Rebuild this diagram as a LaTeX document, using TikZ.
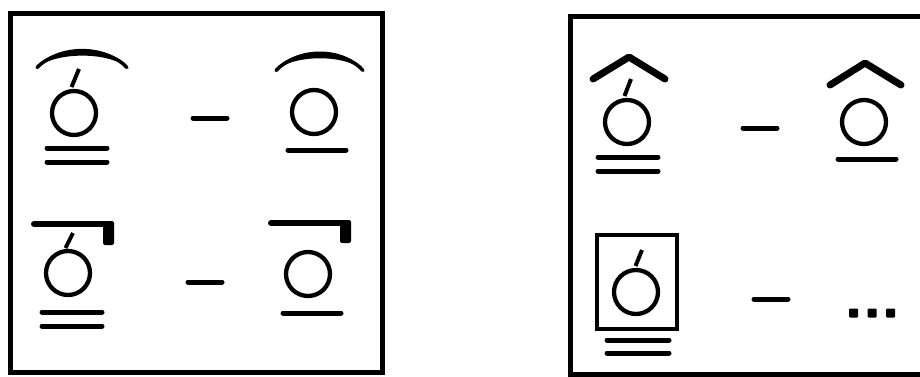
\documentclass[tikz,border=0pt]{standalone}
\begin{document}
\begin{tikzpicture}[x=1pt,y=-1pt,
  frame/.style={line width=5pt},
  ring/.style={line width=4.3pt},
  rnode/.style={circle,draw,ring,minimum size=44pt,inner sep=0pt},
  stroke/.style={line width=5pt, line cap=round},
  tick/.style={line width=4pt},
  hat/.style={line width=7pt, line cap=round, line join=round}]
\useasboundingbox (0,0) rectangle (920,376);
% frames
\draw[frame] (10,13) rectangle (382,372);
\draw[frame] (928,16) -- (570,16) -- (570,374) -- (928,374);

% ---------- left panel ----------
% top-left: arc, acute O, double underline
\fill (36,68) .. controls (55,43) and (108,42) .. (128,68)
      .. controls (108,51) and (55,52) .. cycle;
\draw[line width=3.5pt,line cap=round] (37,67.5) .. controls (56,47) and (108,46) .. (127,67.5);
\node[rnode] (c1) at (74,113) {};
\draw[tick] (71.5,87) -- (79,69);
\draw[stroke] (47,148) -- (107,148);
\draw[stroke] (47,162) -- (107,162);

\draw[stroke] (193,118) coordinate (d1a) -- (227,118) coordinate (d1b);

% top-right: arc, O, single underline
\fill (275,71) .. controls (294,45) and (346,45) .. (364,71)
      .. controls (346,54) and (294,54) .. cycle;
\draw[line width=3.5pt,line cap=round] (276,70.5) .. controls (295,49) and (345,49) .. (363,70.5);
\node[rnode] (c2) at (314,112) {};
\draw[stroke] (288,150) -- (346,150);

% bottom-left: hook bar, acute O, double underline
\draw[line width=6pt,line cap=round] (34,224) -- (108,224);
\fill[rounded corners=2pt] (103,221) rectangle (114,245);
\node[rnode] (c3) at (68,273) {};
\draw[tick] (65.5,248) -- (73,233);
\draw[stroke] (42,312) -- (102,312);
\draw[stroke] (42,326) -- (102,326);

\draw[stroke] (188,282) coordinate (d2a) -- (222,282) coordinate (d2b);

% bottom-right: hook bar, O, single underline
\draw[line width=6pt,line cap=round] (271,223) -- (345,223);
\fill[rounded corners=2pt] (340,220) rectangle (351,243);
\node[rnode] (c4) at (308,274) {};
\draw[stroke] (283,313) -- (341,313);

% ---------- right panel ----------
% top-left: hat, acute O, double underline
\draw[hat] (593,79) -- (629,57) -- (665,79);
\node[rnode] (c5) at (627,122) {};
\draw[tick] (624.5,96) -- (631,79);
\draw[stroke] (598,157) -- (658,157);
\draw[stroke] (598,171) -- (658,171);

\draw[stroke] (743,128) coordinate (d3a) -- (777,128) coordinate (d3b);

% top-right: hat, O, single underline
\draw[hat] (830,85) -- (865,63) -- (901,85);
\node[rnode] (c6) at (864,122) {};
\draw[stroke] (838,159) -- (896,159);

% bottom-left: boxed acute O, double underline
\draw[line width=4.5pt] (597,235) rectangle (677,329);
\node[rnode] (c7) at (636,292) {};
\draw[tick] (635.5,266) -- (642,250);
\draw[stroke] (607,340) -- (669,340);
\draw[stroke] (607,353) -- (669,353);

\draw[stroke] (754,299) coordinate (d4a) -- (788,299) coordinate (d4b);

% dots
\foreach \x in {853.5,872,890.5}
  \fill[rounded corners=1pt] (\x-4.5,308.5) rectangle (\x+4.5,317.5);
\end{tikzpicture}
\end{document}
